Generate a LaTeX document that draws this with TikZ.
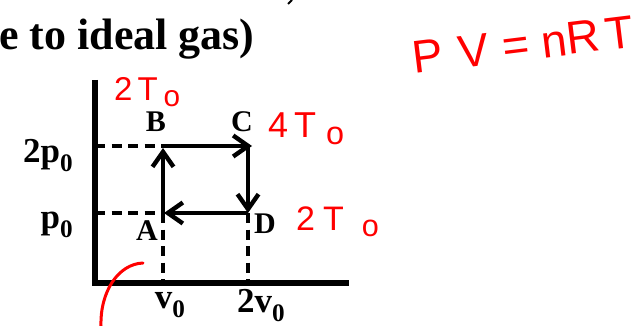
\documentclass[tikz,border=0pt]{standalone}
\usepackage{fontspec}
\usepackage{graphicx}
\setmainfont{Liberation Serif}
\newfontfamily\handfont{Liberation Sans}
\usetikzlibrary{arrows.meta}
\newcommand\sbz{\raisebox{-0.28em}{\scalebox{0.72}{0}}}
\newcommand\hsub{\raisebox{-0.2em}{\scalebox{0.9}{o}}}
\tikzset{
  axisline/.style={line width=6pt, line join=miter},
  guide/.style={line width=4.4pt, dash pattern=on 10pt off 6.5pt},
  process/.style={line width=4.4pt, -{Straight Barb[length=15pt,width=21pt,line width=4.4pt]}},
  ptlabel/.style={inner sep=0pt, anchor=base, font=\fontsize{30}{30}\selectfont\bfseries},
  axlabel/.style={inner sep=0pt, font=\fontsize{35}{35}\selectfont\bfseries},
  hand/.style={inner sep=0pt, anchor=base west, text=red},
  redstroke/.style={draw=red, line width=3pt, line cap=round}
}
\begin{document}
\begin{tikzpicture}[x=1pt,y=-1pt]
\useasboundingbox (0,0) rectangle (636,326);
% title fragment
\node[inner sep=0pt, anchor=base west, font=\fontsize{44}{44}\selectfont\bfseries] (title) at (-1,50) {e to ideal gas)};
\draw[line width=2pt] (292,0) -- (288,4);
% axes
\coordinate (ytop) at (95,80);
\coordinate (origin) at (95,283);
\coordinate (xend) at (349,283);
\draw[axisline] (ytop) -- (origin) -- (xend);
% states
\coordinate (A) at (163,213);
\coordinate (B) at (163,146);
\coordinate (C) at (248,146);
\coordinate (D) at (248,213);
\coordinate (yB) at (95,146);
\coordinate (yA) at (95,213);
\coordinate (xA) at (163,283);
\coordinate (xD) at (248,283);
% guides
\draw[guide] (yB) -- (B);
\draw[guide] (yA) -- (A);
\draw[guide] (A) -- (xA);
\draw[guide] (D) -- (xD);
% cycle
\draw[process] (A) -- ([yshift=-2pt]B);
\draw[process] (B) -- ([xshift=4pt]C);
\draw[process] (C) -- (D);
\draw[process] (D) -- ([xshift=1pt]A);
% labels
\node[ptlabel] (lB) at (156,131) {B};
\node[ptlabel] (lC) at (242,131) {C};
\node[ptlabel] (lA) at (147,240) {A};
\node[ptlabel] (lD) at (265,233) {D};
\node[axlabel, anchor=base east] (l2p) at (73,162) {2p\sbz};
\node[axlabel, anchor=base east] (lp) at (73,228) {p\sbz};
\node[axlabel, anchor=base] (lv) at (170,308) {v\sbz};
\node[axlabel, anchor=base] (l2v) at (261,312) {2v\sbz};
% red annotations
\node[hand, font=\handfont\fontsize{33}{33}\selectfont] (tB) at (114,100) {2\hspace{5pt}T\hspace{6pt}\hsub};
\node[hand, font=\handfont\fontsize{36}{36}\selectfont] (tC) at (268,137) {4\hspace{6pt}T\hspace{10pt}\hsub};
\node[hand, font=\handfont\fontsize{34}{34}\selectfont] (tD) at (296,230) {2\hspace{8pt}T\hspace{18pt}\hsub};
\node[hand, font=\handfont\fontsize{46}{46}\selectfont, rotate=7] (eq) at (414,74) {P\hspace{16pt}V\hspace{14pt}=\hspace{12pt}nR\hspace{6pt}T};
\draw[redstroke] (143,263) .. controls (118,264) and (100,292) .. (101,326);
\end{tikzpicture}
\end{document}
